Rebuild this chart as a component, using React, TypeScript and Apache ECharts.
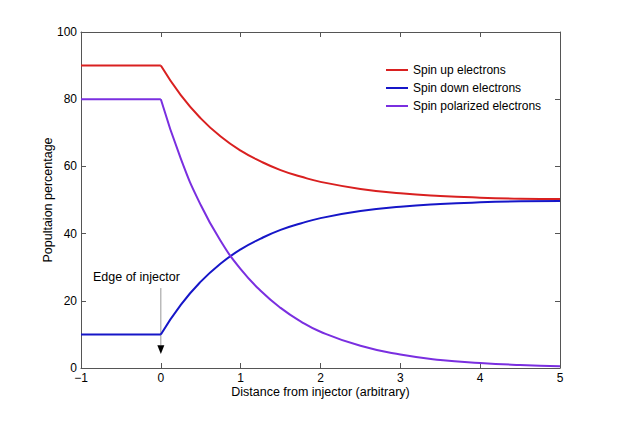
import React, { useEffect, useRef } from "react";
import * as echarts from "echarts";

// Distances along the channel (arbitrary units)
const distBefore = [-1, 0];
const distAfter = [0, 0.25, 0.5, 0.75, 1, 1.25, 1.5, 1.75, 2, 2.5, 3, 3.5, 4, 4.5, 5];

// Population percentages before the injector edge (flat)
const spinUpBefore = [90, 90];
const spinDownBefore = [10, 10];
const polarizedBefore = [80, 80];

// Population percentages after the injector edge (relaxing)
const spinUpAfter = [90, 81.2, 74.3, 68.9, 64.7, 61.5, 58.9, 57.0, 55.4, 53.3, 52.0, 51.2, 50.7, 50.4, 50.3];
const spinDownAfter = [10, 18.8, 25.7, 31.1, 35.3, 38.5, 41.1, 43.0, 44.6, 46.7, 48.0, 48.8, 49.3, 49.6, 49.7];
const polarizedAfter = [80, 62.3, 48.5, 37.8, 29.4, 23.0, 17.9, 13.9, 10.8, 6.6, 4.0, 2.4, 1.5, 0.9, 0.5];

const seriesNames = ["Spin up electrons", "Spin down electrons", "Spin polarized electrons"];
const seriesColors = ["#d92020", "#1616c8", "#7a2fe0"];

const xTicks = { min: -1, max: 5, interval: 1 };
const yTicks = { min: 0, max: 100, interval: 20 };

// Annotation anchor (data coordinates)
const edgeLabel = "Edge of injector";
const edgeX = 0;
const edgeLineTop = 23.8;
const edgeArrowBase = 6.8;
const edgeArrowTip = 4.2;
const edgeLabelY = 27;

const FONT = "Liberation Sans, Arial, Helvetica, sans-serif";
const AXIS_COLOR = "#555";

function pairs(xs: number[], ys: number[]) {
  return xs.map((x, i) => [x, ys[i]]);
}

const minusSign = (v: number) => String(v).replace("-", "\u2212");

export default function App() {
  const ref = useRef<HTMLDivElement>(null);

  useEffect(() => {
    if (!ref.current) return;
    const chart = echarts.init(ref.current, undefined, { renderer: "svg" });

    const lineSeries = (name: string, color: string, data: number[][], smooth: boolean) => ({
      type: "line",
      name,
      data,
      smooth,
      showSymbol: false,
      symbol: "none",
      color,
      lineStyle: { color, width: 2 },
      emphasis: { disabled: true },
    });

    const boxAxisCommon = {
      axisLine: { show: true, onZero: false, lineStyle: { color: AXIS_COLOR, width: 1 } },
      axisTick: { show: true, inside: true, length: 5, lineStyle: { color: AXIS_COLOR } },
      splitLine: { show: false },
    };

    chart.setOption({
      animation: false,
      backgroundColor: "#fff",
      textStyle: { fontFamily: FONT },
      grid: { left: 73, right: 60, top: 24, bottom: 61, containLabel: false },
      legend: {
        data: seriesNames.map((n) => ({ name: n })),
        orient: "vertical",
        left: 373,
        top: 50,
        icon: "rect",
        itemWidth: 22,
        itemHeight: 2,
        itemGap: 4,
        textStyle: { fontFamily: FONT, fontSize: 12, color: "#000", lineHeight: 14 },
        selectedMode: false,
      },
      xAxis: [
        {
          type: "value",
          position: "bottom",
          ...xTicks,
          ...boxAxisCommon,
          axisLabel: { color: "#000", fontSize: 12, fontFamily: FONT, margin: 4, formatter: minusSign },
          name: "Distance from injector (arbitrary)",
          nameLocation: "middle",
          nameGap: 17,
          nameMoveOverlap: false,
          nameTextStyle: { color: "#000", fontSize: 12.5, fontFamily: FONT },
        },
        {
          type: "value",
          position: "top",
          ...xTicks,
          ...boxAxisCommon,
          axisLabel: { show: false },
        },
      ],
      yAxis: [
        {
          type: "value",
          position: "left",
          ...yTicks,
          ...boxAxisCommon,
          axisLabel: { color: "#000", fontSize: 12, fontFamily: FONT, margin: 4 },
          name: "Popultaion percentage",
          nameLocation: "middle",
          nameGap: 27,
          nameMoveOverlap: false,
          nameTextStyle: { color: "#000", fontSize: 12.5, fontFamily: FONT },
        },
        {
          type: "value",
          position: "right",
          ...yTicks,
          ...boxAxisCommon,
          axisLabel: { show: false },
        },
      ],
      series: [
        lineSeries(seriesNames[0], seriesColors[0], pairs(distBefore, spinUpBefore), false),
        lineSeries(seriesNames[0], seriesColors[0], pairs(distAfter, spinUpAfter), true),
        lineSeries(seriesNames[1], seriesColors[1], pairs(distBefore, spinDownBefore), false),
        lineSeries(seriesNames[1], seriesColors[1], pairs(distAfter, spinDownAfter), true),
        lineSeries(seriesNames[2], seriesColors[2], pairs(distBefore, polarizedBefore), false),
        lineSeries(seriesNames[2], seriesColors[2], pairs(distAfter, polarizedAfter), true),
      ],
    });

    // Annotation for the injector edge, placed through the grid's own scales
    const toPx = (x: number, y: number) =>
      chart.convertToPixel({ xAxisIndex: 0, yAxisIndex: 0 }, [x, y]) as number[];
    const top = toPx(edgeX, edgeLineTop);
    const base = toPx(edgeX, edgeArrowBase);
    const tip = toPx(edgeX, edgeArrowTip);
    const lbl = toPx(edgeX, edgeLabelY);
    const half = 3.5;

    chart.setOption({
      graphic: [
        {
          type: "line",
          shape: { x1: top[0], y1: top[1], x2: base[0], y2: base[1] },
          style: { stroke: "#999", lineWidth: 1 },
          silent: true,
        },
        {
          type: "polygon",
          shape: {
            points: [
              [base[0] - half, base[1]],
              [base[0] + half, base[1]],
              [tip[0], tip[1]],
            ],
          },
          style: { fill: "#000" },
          silent: true,
        },
        {
          type: "text",
          x: lbl[0] + 19,
          y: lbl[1],
          style: {
            text: edgeLabel,
            fontSize: 12.5,
            fontFamily: FONT,
            fill: "#000",
            align: "right",
            verticalAlign: "middle",
          },
          silent: true,
        },
      ],
    });

    return () => chart.dispose();
  }, []);

  return <div ref={ref} style={{ width: 612, height: 421 }} />;
}
